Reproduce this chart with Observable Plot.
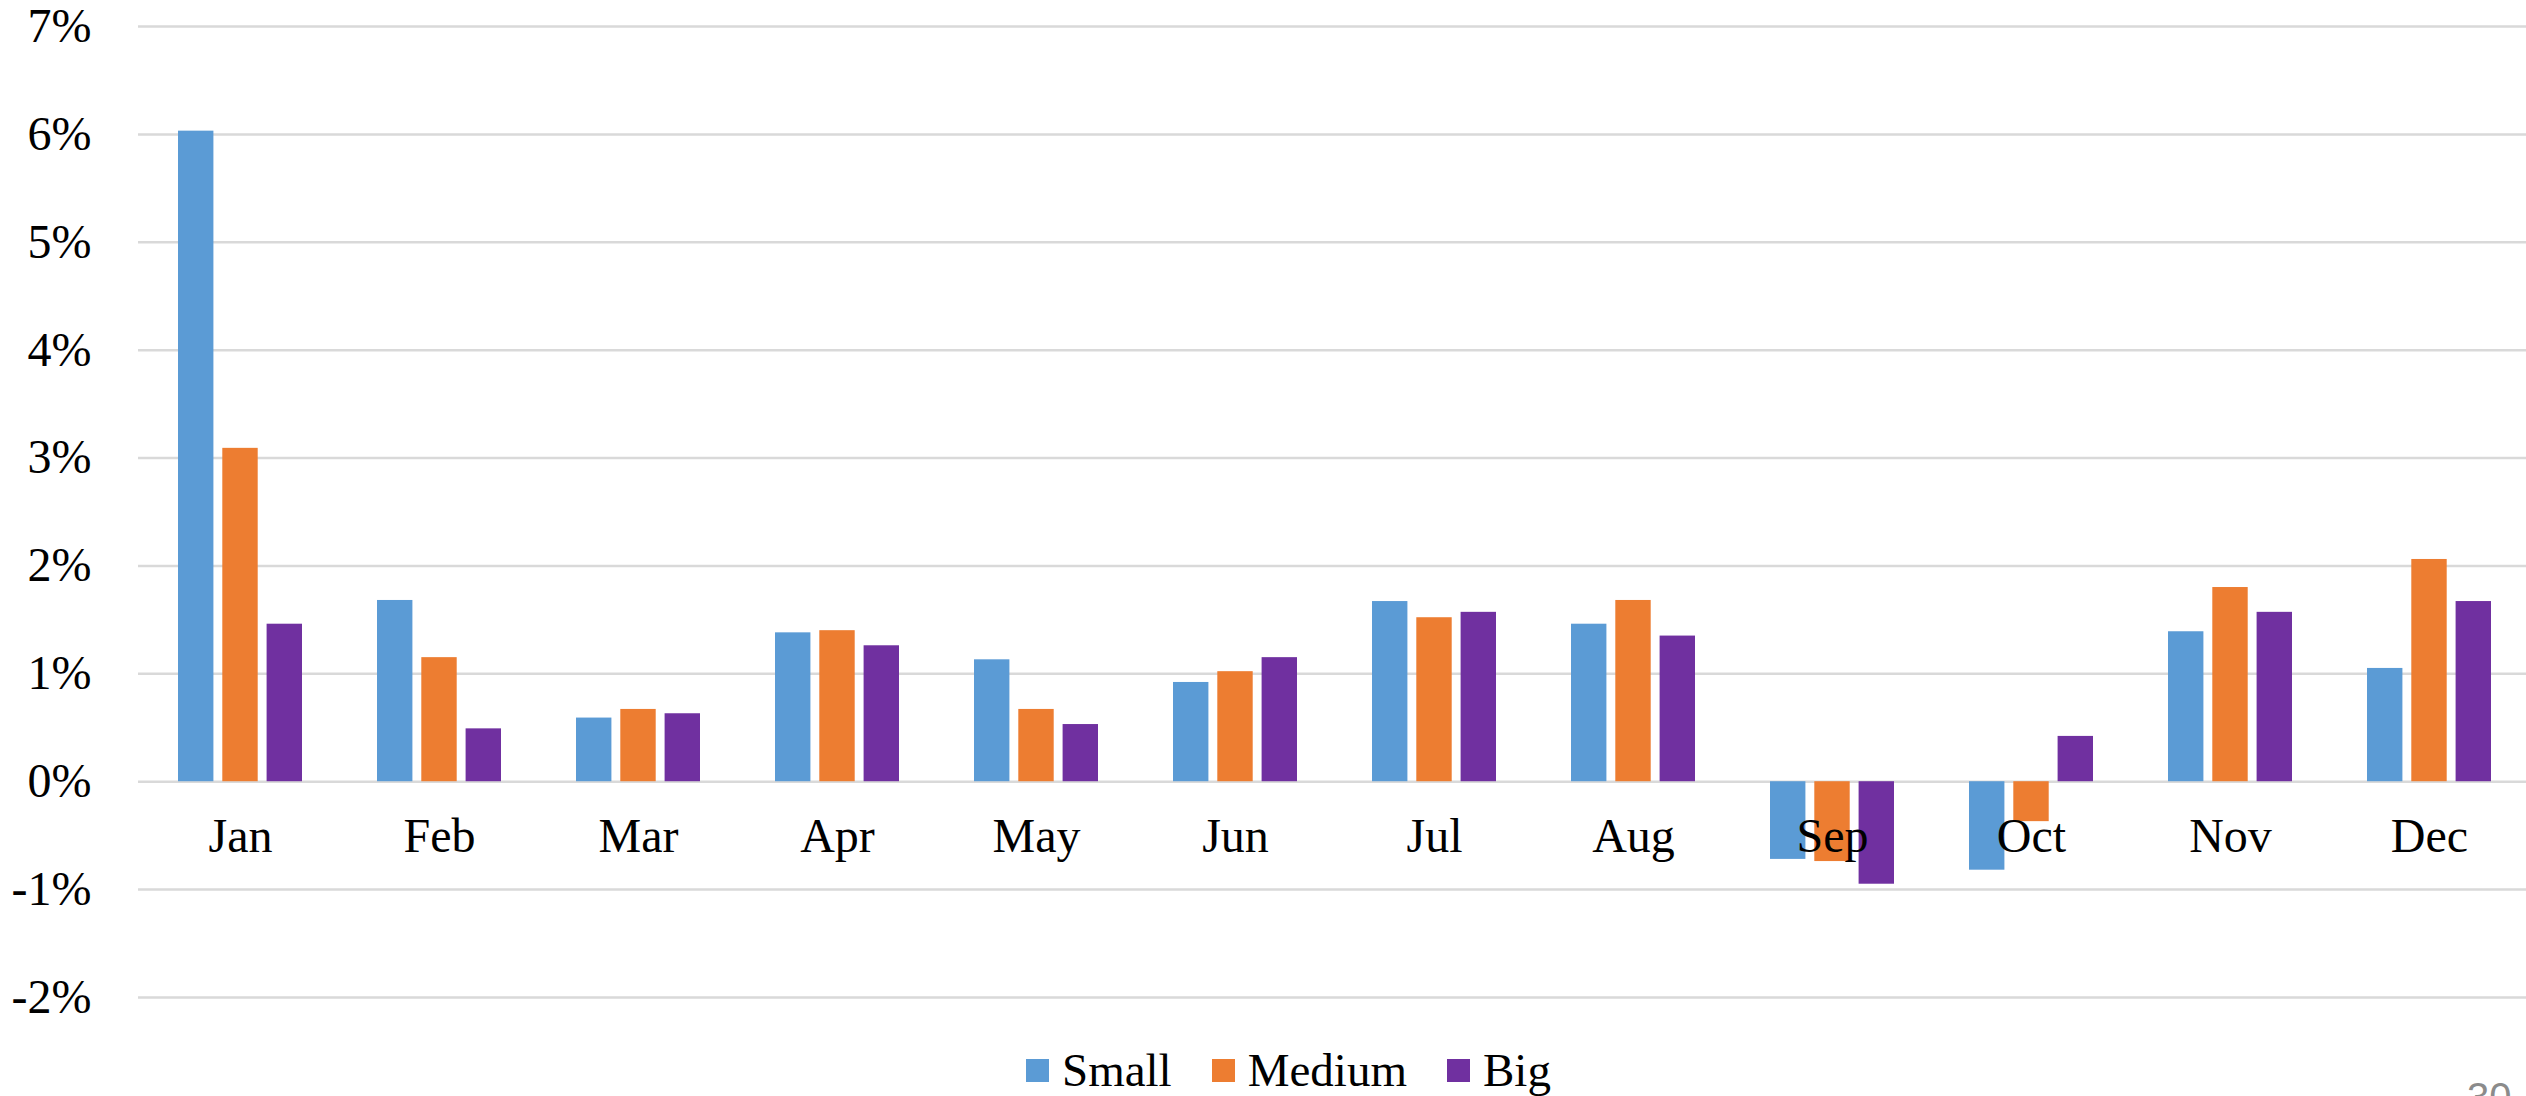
<!DOCTYPE html>
<html>
<head>
<meta charset="utf-8">
<script src="https://cdn.jsdelivr.net/npm/d3@7"></script>
<script src="https://cdn.jsdelivr.net/npm/@observablehq/plot@0.6"></script>
<style>
  html, body { margin: 0; padding: 0; background: #ffffff; }
  body { width: 2526px; height: 1096px; overflow: hidden; position: relative; }
  #chart svg { max-width: none !important; }
  .legend { position: absolute; top: 1047px; left: 1026px; display: flex; align-items: center;
            font-family: "Liberation Serif", "Times New Roman", serif; font-size: 47px; line-height: 47px; color: #000; }
  .legend .sw { width: 23px; height: 23px; margin-right: 13px; }
  .legend .item { display: flex; align-items: center; margin-right: 40px; }
  .legend .item:last-child { margin-right: 0; }
  .pagenum { position: absolute; top: 1077px; left: 2467px; font-family: "Liberation Sans", Arial, sans-serif;
             font-size: 40px; line-height: 40px; color: #8b8b8b; }
</style>
</head>
<body>
<div id="chart"></div>
<div class="legend" id="legend"></div>
<div class="pagenum">30</div>
<script>
// ---- data (percent units) ----
const months = ["Jan", "Feb", "Mar", "Apr", "May", "Jun", "Jul", "Aug", "Sep", "Oct", "Nov", "Dec"];
const seriesNames = ["Small", "Medium", "Big"];
const seriesColors = ["#5b9bd5", "#ed7d31", "#7030a0"];
const small  = [6.03, 1.68, 0.59, 1.38, 1.13, 0.92, 1.67, 1.46, -0.72, -0.82, 1.39, 1.05];
const medium = [3.09, 1.15, 0.67, 1.40, 0.67, 1.02, 1.52, 1.68, -0.74, -0.37, 1.80, 2.06];
const big    = [1.46, 0.49, 0.63, 1.26, 0.53, 1.15, 1.57, 1.35, -0.95, 0.42, 1.57, 1.67];
const yTicks = [-2, -1, 0, 1, 2, 3, 4, 5, 6, 7];

const seriesValues = [small, medium, big];
const rows = months.flatMap((m, i) => seriesNames.map((s, j) => ({month: m, series: s, value: seriesValues[j][i]})));

// ---- layout ----
const width = 2531, height = 1040;
const marginLeft = 138, marginRight = 0, marginTop = 26, marginBottom = 43;
const padInner = 0.378, padOuter = 0.189;
const step = (width - marginLeft - marginRight) / (months.length - padInner + 2 * padOuter);
const bw = step * (1 - padInner);
const inner = d3.scaleBand().domain(seriesNames).range([0, bw]).paddingInner(0.2).paddingOuter(0);

const barMarks = seriesNames.map((s, j) => Plot.barY(rows.filter(r => r.series === s), {
  x: "month",
  y: "value",
  fill: seriesColors[j],
  insetLeft: inner(s),
  insetRight: bw - inner(s) - inner.bandwidth()
}));

const chart = Plot.plot({
  width, height, marginLeft, marginRight, marginTop, marginBottom,
  style: {fontFamily: "Liberation Serif, Times New Roman, serif", fontSize: "48px", color: "#000", background: "#fff", maxWidth: "none"},
  x: {type: "band", domain: months, paddingInner: padInner, paddingOuter: padOuter, axis: null, label: null},
  y: {domain: [-2, 7], axis: null, label: null},
  marks: [
    Plot.ruleY(yTicks, {stroke: "#d9d9d9", strokeWidth: 2.5}),
    ...barMarks,
    Plot.axisY({ticks: yTicks, tickFormat: d => `${d}%`, tickSize: 0, tickPadding: 47, fontSize: 48, label: null}),
    Plot.text(months, {x: d => d, y: () => 0, text: d => d, lineAnchor: "top", dy: 36, fontSize: 48, fill: "#000"})
  ]
});
document.getElementById("chart").appendChild(chart);

// ---- legend ----
const legend = document.getElementById("legend");
seriesNames.forEach((s, j) => {
  const item = document.createElement("div");
  item.className = "item";
  const sw = document.createElement("div");
  sw.className = "sw";
  sw.style.background = seriesColors[j];
  const label = document.createElement("span");
  label.textContent = s;
  item.appendChild(sw);
  item.appendChild(label);
  legend.appendChild(item);
});
</script>
</body>
</html>
